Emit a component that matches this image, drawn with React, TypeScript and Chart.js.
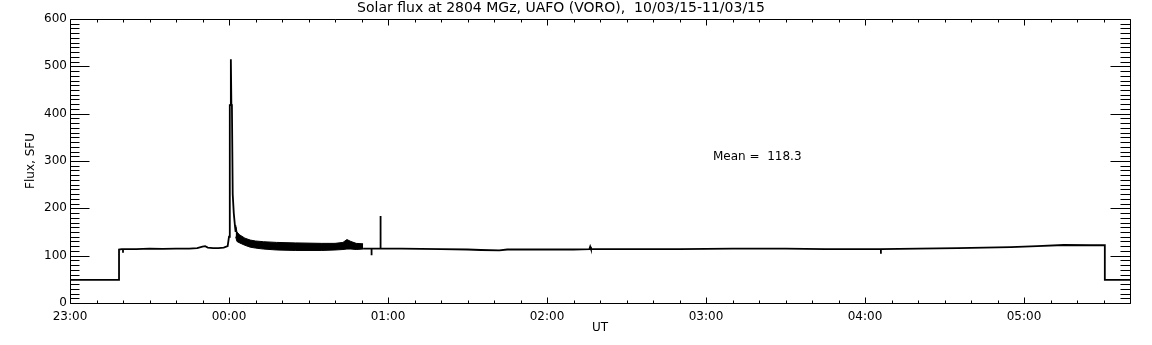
import React, { useEffect, useRef } from 'react';
import { Chart, registerables } from 'chart.js';

Chart.register(...registerables);

const chartTitle = 'Solar flux at 2804 MGz, UAFO (VORO),  10/03/15-11/03/15';
const xTitle = 'UT';
const yTitle = 'Flux, SFU';
const meanLabel = 'Mean =  118.3';

// x axis: minutes after 23:00 UT
const xTickLabels = ['23:00', '00:00', '01:00', '02:00', '03:00', '04:00', '05:00'];
const xMinutesMin = 0;
const xMinutesMax = 400;
const xMajorStep = 60;
const xMinorStep = 10;
const yMin = 0;
const yMax = 600;
const yMajorStep = 100;
const yMinorStep = 10;

// main flux trace (minutes after 23:00, SFU); null = gap covered by the noisy band
const fluxTimes = [
  0, 18.5, 18.5, 19.5, 20, 20, 20, 25, 30, 35, 40, 45, 48, 50, 51, 52, 54, 56, 58, 59.5,
  60, 60.3, 60.5, 60.7, 60.9, 61.1, 61.4, 61.8, 62.3, 62.5, 62.6,
  110.6, 112, 113.8, 113.8, 113.8, 117.2, 117.2, 117.2, 125, 140, 150, 155, 162, 165, 175,
  190, 196, 196.3, 196.6, 210, 230, 240, 250, 270, 285, 300, 306, 306, 306, 320, 335, 345,
  355, 365, 375, 385, 390.5, 390.5, 400,
];
const fluxValues = [
  49, 49, 113, 114, 114, 106, 114, 114, 115, 114.5, 115, 115, 116, 119, 120, 117, 116, 116, 117, 120,
  140, 418, 418, 515, 420, 418, 230, 190, 160, 150, null,
  115, 115, 115, 101, 115, 115, 184, 115, 115, 114, 113, 112, 111, 113, 113,
  113, 114, 119, 114, 114, 114, 114.5, 115, 115, 114, 114, 114, 104, 114, 115, 116, 117,
  118, 120, 122.5, 122, 122, 49, 49,
];

// rapidly oscillating part after the burst: upper / lower envelopes
const bandTimes = [62.5, 63, 64, 66, 68, 70, 73, 78, 85, 95, 100, 103, 104.5, 106, 108, 110.6];
const bandUpper = [165, 150, 144, 137, 133, 131, 129.5, 128, 127, 126, 126, 128, 134, 130, 126, 125];
const bandLower = [140, 130, 127, 122, 118, 116, 114, 112, 111, 111, 112, 113, 114, 114, 113, 114];

const FONT = '"DejaVu Sans", "Liberation Sans", sans-serif';

const framePlugin = {
  id: 'idlFrame',
  afterDraw(chart: any) {
    const { ctx, chartArea, scales } = chart;
    const xs = scales.x;
    const ys = scales.y;
    const L = Math.round(chartArea.left) + 0.5;
    const R = Math.round(chartArea.right) + 0.5;
    const T = Math.round(chartArea.top) + 0.5;
    const B = Math.round(chartArea.bottom) + 0.5;
    ctx.save();
    ctx.strokeStyle = '#000';
    ctx.lineWidth = 1;
    ctx.beginPath();
    ctx.rect(L, T, R - L, B - T);
    for (let v = xMinutesMin; v <= xMinutesMax; v += xMinorStep) {
      const px = Math.round(xs.getPixelForValue(v)) + 0.5;
      const len = v % xMajorStep === 0 ? 6 : 3;
      ctx.moveTo(px, B);
      ctx.lineTo(px, B - len);
      ctx.moveTo(px, T);
      ctx.lineTo(px, T + len);
    }
    for (let v = yMin; v <= yMax; v += yMinorStep) {
      const py = Math.round(ys.getPixelForValue(v)) + 0.5;
      const major = v % yMajorStep === 0;
      ctx.moveTo(L, py);
      ctx.lineTo(L + (major ? 19 : 9), py);
      ctx.moveTo(R, py);
      ctx.lineTo(R - (major ? 20 : 10), py);
    }
    ctx.stroke();

    ctx.fillStyle = '#000';
    ctx.textBaseline = 'middle';
    ctx.textAlign = 'center';
    ctx.font = `14px ${FONT}`;
    ctx.fillText(chartTitle, 561, 8);
    ctx.font = `12px ${FONT}`;
    ctx.fillText(xTitle, (chartArea.left + chartArea.right) / 2, 328);
    ctx.textAlign = 'left';
    ctx.fillText(meanLabel, 713, 157);
    ctx.save();
    ctx.translate(31, (chartArea.top + chartArea.bottom) / 2);
    ctx.rotate(-Math.PI / 2);
    ctx.textAlign = 'center';
    ctx.fillText(yTitle, 0, 0);
    ctx.restore();
    ctx.restore();
  },
};

export default function App() {
  const canvasRef = useRef<HTMLCanvasElement | null>(null);

  useEffect(() => {
    if (!canvasRef.current) return;
    const mainData = fluxTimes.map((t, i) => ({ x: t, y: fluxValues[i] }));
    const upperData = bandTimes.map((t, i) => ({ x: t, y: bandUpper[i] }));
    const lowerData = bandTimes.map((t, i) => ({ x: t, y: bandLower[i] }));
    const chart = new Chart(canvasRef.current, {
      type: 'line',
      data: {
        datasets: [
          {
            data: mainData as any,
            borderColor: '#000',
            borderWidth: 1.8,
            pointRadius: 0,
            tension: 0,
            spanGaps: false,
            fill: false,
          },
          {
            data: upperData as any,
            borderColor: '#000',
            borderWidth: 1,
            pointRadius: 0,
            tension: 0,
            fill: false,
          },
          {
            data: lowerData as any,
            borderColor: '#000',
            borderWidth: 1,
            pointRadius: 0,
            tension: 0,
            backgroundColor: '#000',
            fill: '-1',
          },
        ],
      },
      options: {
        responsive: false,
        animation: false,
        layout: { padding: { left: 0, right: 22, top: 19, bottom: 0 } },
        plugins: {
          legend: { display: false },
          title: { display: false },
          tooltip: { enabled: false },
        },
        scales: {
          x: {
            type: 'linear',
            min: xMinutesMin,
            max: xMinutesMax,
            afterFit(scale: any) {
              scale.height = 42;
            },
            afterBuildTicks(scale: any) {
              scale.ticks = xTickLabels.map((_, i) => ({ value: i * xMajorStep }));
            },
            grid: { display: false, drawTicks: false },
            border: { display: false },
            ticks: {
              autoSkip: false,
              maxRotation: 0,
              padding: 7,
              color: '#000',
              font: { family: FONT, size: 12 },
              callback: (v: any) => xTickLabels[Math.round(Number(v) / xMajorStep)] ?? '',
            },
          },
          y: {
            type: 'linear',
            min: yMin,
            max: yMax,
            afterFit(scale: any) {
              scale.width = 70;
            },
            grid: { display: false, drawTicks: false },
            border: { display: false },
            ticks: {
              stepSize: yMajorStep,
              autoSkip: false,
              padding: 3,
              color: '#000',
              font: { family: FONT, size: 12 },
            },
          },
        },
      },
      plugins: [framePlugin],
    });
    return () => chart.destroy();
  }, []);

  return (
    <div style={{ position: 'absolute', left: 0, top: 0, width: 1152, height: 345, background: '#fff' }}>
      <canvas ref={canvasRef} width={1152} height={345} style={{ display: 'block' }} />
    </div>
  );
}
